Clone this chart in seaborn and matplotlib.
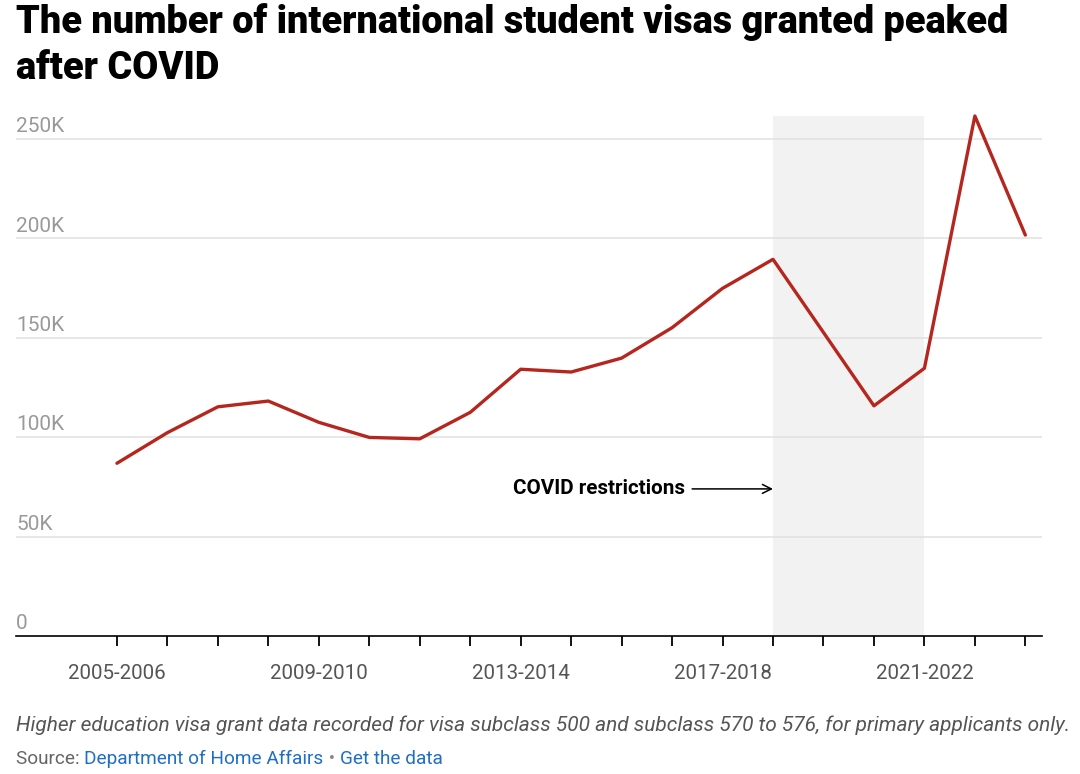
import matplotlib
matplotlib.use("Agg")
import matplotlib.pyplot as plt
import matplotlib.transforms as mtransforms
import seaborn as sns
import pandas as pd

years = ["2005-2006", "2006-2007", "2007-2008", "2008-2009", "2009-2010",
         "2010-2011", "2011-2012", "2012-2013", "2013-2014", "2014-2015",
         "2015-2016", "2016-2017", "2017-2018", "2018-2019", "2019-2020",
         "2020-2021", "2021-2022", "2022-2023", "2023-2024"]
visas = [86900, 102300, 115300, 118200, 107500, 99900, 99200, 112500, 134200,
         132800, 139800, 155100, 174900, 189500, 152700, 115800, 134700,
         261600, 201700]
y_ticks = [0, 50000, 100000, 150000, 200000, 250000]
y_labels = ["0", "50K", "100K", "150K", "200K", "250K"]
covid_start = "2018-2019"
covid_end = "2021-2022"

df = pd.DataFrame({"year": years, "visas": visas})

sns.set_theme(style="white")
plt.rcParams["font.family"] = ["Roboto", "DejaVu Sans"]

fig = plt.figure(figsize=(10.8, 7.74), dpi=100)
ax = fig.add_axes([16 / 1080, 1 - 636 / 774, 1026 / 1080, 520 / 774])

x0 = years.index(covid_start)
x1 = years.index(covid_end)
ax.axvspan(x0, x1, color="#f2f2f2", zorder=0, lw=0)

for t in y_ticks[1:]:
    ax.axhline(t, color="#e0e0e0", lw=1.1, zorder=1)

sns.lineplot(data=df, x="year", y="visas", ax=ax, color="#b5261e", lw=2.4,
             zorder=3, clip_on=False)

ax.set_xlim(-2.0, 18.33)
ax.set_ylim(0, max(visas))

ax.set_xticks(range(len(years)))
ax.set_xticklabels([y if i % 4 == 0 else "" for i, y in enumerate(years)])
ax.tick_params(axis="x", length=7, width=1.3, color="black", pad=13,
               labelsize=14.8, labelcolor="#555555", bottom=True)
ax.set_yticks([])
ax.set_xlabel("")
ax.set_ylabel("")
for s in ["top", "right", "left"]:
    ax.spines[s].set_visible(False)
ax.spines["bottom"].set_color("black")
ax.spines["bottom"].set_linewidth(1.2)

ylab_tr = mtransforms.offset_copy(ax.get_yaxis_transform(), fig=fig, x=0, y=5, units="points")
for t, lab in zip(y_ticks, y_labels):
    ax.text(0, t, lab, transform=ylab_tr, ha="left", va="baseline",
            fontsize=15, color="#999999")

ax.annotate("COVID restrictions", xy=(x0, 74000), xytext=(11.25, 74000),
            ha="right", va="center", fontsize=14.9, fontweight="bold",
            color="black",
            arrowprops=dict(arrowstyle="->", color="black", lw=1.1,
                            shrinkA=3, shrinkB=0, mutation_scale=16))

title_lines = ["The number of international student visas granted peaked", "after COVID"]
for i, line in enumerate(title_lines):
    fig.text(16 / 1080, 1 - (33 + 46 * i) / 774, line, ha="left", va="baseline",
             fontsize=27.3, fontweight="heavy", color="black")

fig.text(16 / 1080, 1 - 731 / 774,
         "Higher education visa grant data recorded for visa subclass 500 and "
         "subclass 570 to 576, for primary applicants only.",
         ha="left", va="baseline", fontsize=15, style="italic", color="#555555")

# source line with link-coloured parts
pieces = [("Source: ", "#666666"), ("Department of Home Affairs", "#1f6fc5"),
          (" \u2022 ", "#888888"), ("Get the data", "#1f6fc5")]
fig.canvas.draw()
renderer = fig.canvas.get_renderer()
xpos = 16
for txt, col in pieces:
    t = fig.text(xpos / 1080, 1 - 764 / 774, txt, ha="left", va="baseline",
                 fontsize=13.7, color=col)
    bb = t.get_window_extent(renderer=renderer)
    xpos += bb.width

fig.savefig("out.png", dpi=100)
